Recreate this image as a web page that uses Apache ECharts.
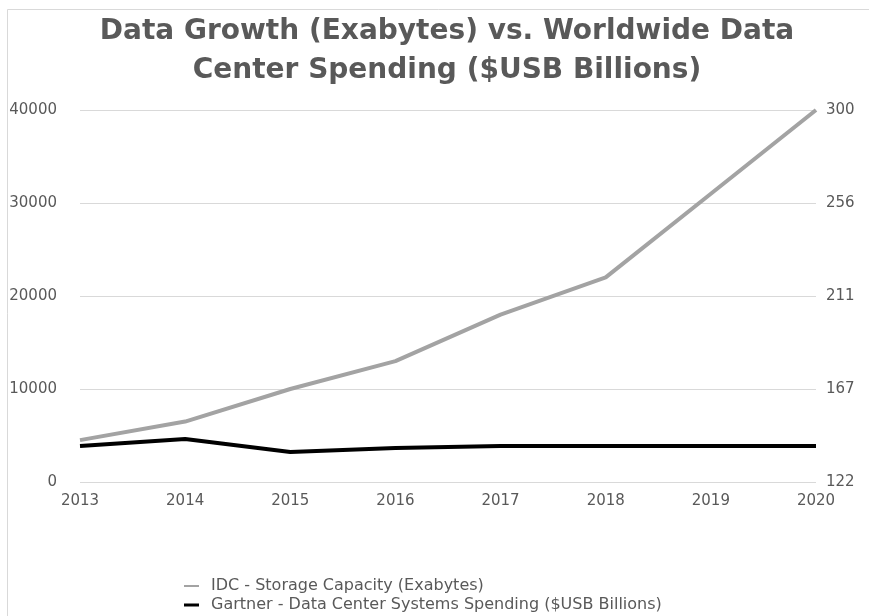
<!DOCTYPE html>
<html>
<head>
<meta charset="utf-8">
<script src="https://cdn.jsdelivr.net/npm/echarts@6/dist/echarts.min.js"></script>
<style>
  html, body { margin: 0; padding: 0; background: #fff; }
  #chart { width: 869px; height: 616px; }
</style>
</head>
<body>
<div id="chart"></div>
<script>
// data
const years = ['2013', '2014', '2015', '2016', '2017', '2018', '2019', '2020']
const storageExabytes = [4500, 6500, 10000, 13000, 18000, 22000, 31000, 40000]
const spendingBillions = [139.2, 142.6, 136.4, 138.3, 139.2, 139.2, 139.2, 139.2]
const titleLines = ['Data Growth (Exabytes) vs. Worldwide Data', 'Center Spending ($USB Billions)']
const seriesNames = ['IDC - Storage Capacity (Exabytes)', 'Gartner - Data Center Systems Spending ($USB Billions)']

const font = '"DejaVu Sans", sans-serif'
const textColor = '#595959'
const grayLine = '#a3a3a3'

const chart = echarts.init(document.getElementById('chart'))

// one legend per row, the vertical legend would wrap into columns at the bottom edge
function legendRow(name, top, color, h) {
  return {
    orient: 'vertical',
    left: 184,
    top: top,
    icon: 'rect',
    itemWidth: 15,
    itemHeight: h,
    itemGap: 0,
    padding: 0,
    textStyle: { fontFamily: font, fontSize: 16, color: textColor, padding: [0, 0, 0, 7] },
    itemStyle: { color: color },
    data: [name]
  }
}

// title is a bit right of the canvas centre in the original, so it is drawn as graphic text
const titleText = titleLines.map((line, i) => ({
  type: 'text',
  x: 447,
  y: 32 + i * 39,
  silent: true,
  style: {
    text: line,
    font: 'bold 28px "DejaVu Sans", sans-serif',
    fill: textColor,
    align: 'center',
    verticalAlign: 'middle'
  }
}))

chart.setOption({
  backgroundColor: '#fff',
  animation: false,
  graphic: [{
    type: 'rect',
    shape: { x: 7.5, y: 9.5, width: 870, height: 620 },
    style: { fill: 'none', stroke: '#d9d9d9', lineWidth: 1 },
    silent: true
  }, ...titleText],
  legend: [
    legendRow(seriesNames[0], 578, grayLine, 2),
    legendRow(seriesNames[1], 597, '#000', 3)
  ],
  grid: { left: 80, right: 53, top: 110, bottom: 134 },
  xAxis: {
    type: 'category',
    data: years,
    boundaryGap: false,
    axisLine: { show: false },
    axisTick: { show: false },
    axisLabel: { fontFamily: font, fontSize: 15, color: textColor, margin: 12 }
  },
  yAxis: [
    {
      type: 'value',
      min: 0,
      max: 40000,
      interval: 10000,
      axisLine: { show: false },
      axisTick: { show: false },
      axisLabel: {
        fontFamily: font, fontSize: 15, color: textColor, margin: 23,
        formatter: v => String(v)
      },
      splitLine: { lineStyle: { color: '#d9d9d9', width: 1 } }
    },
    {
      type: 'value',
      min: 122,
      max: 300,
      interval: 44.5,
      axisLine: { show: false },
      axisTick: { show: false },
      axisLabel: {
        fontFamily: font, fontSize: 15, color: textColor, margin: 10,
        formatter: v => String(Math.round(v))
      },
      splitLine: { show: false }
    }
  ],
  series: [
    {
      name: seriesNames[0],
      type: 'line',
      yAxisIndex: 0,
      data: storageExabytes,
      symbol: 'none',
      itemStyle: { color: grayLine },
      lineStyle: { color: grayLine, width: 4 }
    },
    {
      name: seriesNames[1],
      type: 'line',
      yAxisIndex: 1,
      data: spendingBillions,
      symbol: 'none',
      itemStyle: { color: '#000' },
      lineStyle: { color: '#000', width: 4 }
    }
  ]
})
</script>
</body>
</html>
